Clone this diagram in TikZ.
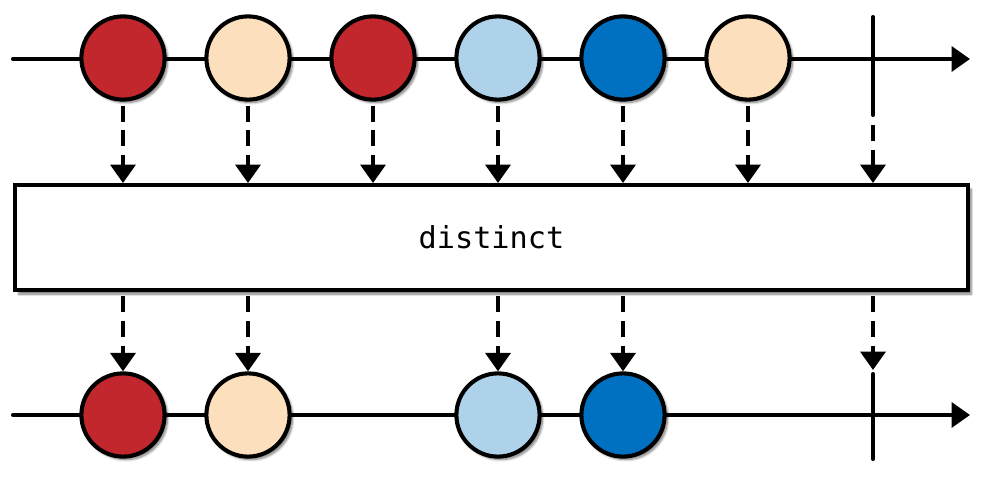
\documentclass[tikz,border=0pt]{standalone}
\usepackage{fontspec}
\newfontfamily\codefont{DejaVu Sans Mono}
\usepackage{tikz}
\usetikzlibrary{arrows.meta, positioning, shadows.blur}

\definecolor{marbleRed}{RGB}{193,39,45}
\definecolor{marblePeach}{RGB}{252,223,188}
\definecolor{marbleSky}{RGB}{174,210,233}
\definecolor{marbleBlue}{RGB}{0,112,192}

\begin{document}
\begin{tikzpicture}[
    x=0.025cm, y=-0.025cm, line width=2.9pt,
    >={Triangle[length=4.6mm, width=6.2mm]},
    marble/.style={circle, draw, line width=2.9pt, minimum size=2.08cm, inner sep=0pt, fill=#1,
        blur shadow={shadow xshift=2pt, shadow yshift=-2pt, shadow blur steps=8, shadow blur extra rounding=1pt, shadow opacity=55}},
    box/.style={draw, fill=white, line width=2.9pt, minimum width=23.8cm, minimum height=2.62cm, inner sep=0pt,
        font=\codefont\fontsize{21.5}{24}\selectfont,
        blur shadow={shadow xshift=2.5pt, shadow yshift=-3pt, shadow blur steps=8, shadow opacity=55}},
    flow/.style={->, dash pattern=on 4mm off 2.2mm, shorten <=1mm}]
\useasboundingbox (0,0) rectangle (996,485);
% timelines
\coordinate (tin) at (13,59);
\coordinate (tout) at (970,59);
\coordinate (bin) at (13,415);
\coordinate (bout) at (970,415);
\draw[->, line cap=round] (tin) -- (tout);
\draw[->, line cap=round] (bin) -- (bout);
% completion bars
\coordinate (tc1) at (873,17);
\coordinate (tc2) at (873,115);
\coordinate (bc1) at (873,374);
\coordinate (bc2) at (873,459);
\draw[line cap=round] (tc1) -- (tc2);
\draw[line cap=round] (bc1) -- (bc2);
% source marbles
\node[marble=marbleRed] (t1) at (123,58) {};
\node[marble=marblePeach] (t2) at (248,58) {};
\node[marble=marbleRed] (t3) at (373,58) {};
\node[marble=marbleSky] (t4) at (498,58) {};
\node[marble=marbleBlue] (t5) at (623,58) {};
\node[marble=marblePeach] (t6) at (748,58) {};
% operator
\node[box] (op) at (491.5,237.5) {distinct};
% result marbles
\node[marble=marbleRed] (b1) at (123,415) {};
\node[marble=marblePeach] (b2) at (248,415) {};
\node[marble=marbleSky] (b4) at (498,415) {};
\node[marble=marbleBlue] (b5) at (623,415) {};
% flows in
\foreach \m in {t1,t2,t3,t4,t5,t6}
    \draw[flow] (\m) -- (\m |- op.north);
\draw[flow, shorten <=2.5mm] (tc2) -- (tc2 |- op.north);
% flows out
\foreach \m in {b1,b2,b4,b5}
    \draw[flow] (\m |- op.south) -- (\m);
\draw[flow, shorten >=1mm] (bc1 |- op.south) -- (bc1);
\end{tikzpicture}
\end{document}
